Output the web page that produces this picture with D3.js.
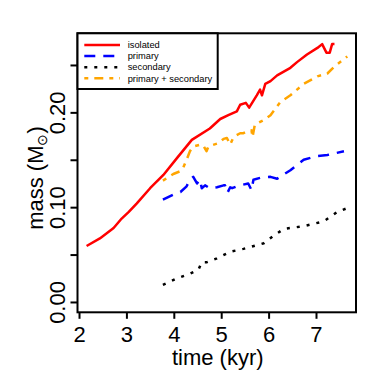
<!DOCTYPE html>
<html>
<head>
<meta charset="utf-8">
<script src="https://cdn.jsdelivr.net/npm/d3@7/dist/d3.min.js"></script>
<style>
  html, body { margin: 0; padding: 0; background: #fff; }
  svg { display: block; }
  text { font-family: "Liberation Sans", Arial, sans-serif; }
</style>
</head>
<body>
<svg id="chart" width="390" height="381"></svg>
<script>
// ── data ──────────────────────────────────────────────────────────────────
var isolatedTime = [2.16, 2.44, 2.73, 2.90, 3.05, 3.22, 3.50, 3.78, 4.07, 4.38, 4.76, 4.98,
                    5.15, 5.33, 5.40, 5.52, 5.59, 5.75, 5.82, 5.86, 5.93, 6.04, 6.18, 6.46,
                    6.60, 6.81, 7.03, 7.13, 7.22, 7.29, 7.34, 7.39];
var isolatedMass = [0.059, 0.067, 0.078, 0.088, 0.095, 0.104, 0.120, 0.134, 0.152, 0.171, 0.183, 0.193,
                    0.197, 0.201, 0.208, 0.210, 0.205, 0.218, 0.224, 0.218, 0.230, 0.233, 0.239, 0.247,
                    0.253, 0.261, 0.268, 0.272, 0.263, 0.263, 0.272, 0.272];

var primaryTime = [3.77, 4.06, 4.14, 4.27, 4.34, 4.41, 4.49, 4.55, 4.59, 4.66, 4.76, 4.91,
                   5.05, 5.08, 5.13, 5.19, 5.23, 5.33, 5.40, 5.57, 5.64, 5.68, 5.83, 6.04,
                   6.18, 6.46, 6.74, 7.03, 7.24, 7.59];
var primaryMass = [0.108, 0.115, 0.116, 0.122, 0.129, 0.132, 0.125, 0.129, 0.120, 0.123, 0.120, 0.121,
                   0.123, 0.123, 0.115, 0.121, 0.120, 0.122, 0.123, 0.125, 0.118, 0.129, 0.131, 0.132,
                   0.130, 0.139, 0.150, 0.154, 0.155, 0.159];

var secondaryTime = [3.77, 4.07, 4.35, 4.52, 4.59, 4.70, 4.91, 5.19, 5.47, 5.90, 6.11, 6.32,
                     6.74, 7.16, 7.31, 7.45, 7.66];
var secondaryMass = [0.018, 0.025, 0.030, 0.034, 0.042, 0.042, 0.046, 0.053, 0.056, 0.062, 0.070, 0.077,
                     0.080, 0.085, 0.090, 0.095, 0.099];

var bothTime = [3.77, 3.99, 4.14, 4.20, 4.27, 4.34, 4.41, 4.56, 4.62, 4.69, 4.73, 4.91,
                4.97, 5.05, 5.12, 5.19, 5.26, 5.40, 5.47, 5.55, 5.64, 5.66, 5.71, 5.90,
                6.04, 6.25, 6.46, 6.74, 7.03, 7.24, 7.38, 7.66];
var bothMass = [0.128, 0.135, 0.138, 0.142, 0.150, 0.159, 0.164, 0.166, 0.165, 0.159, 0.164, 0.167,
                0.169, 0.172, 0.173, 0.166, 0.174, 0.178, 0.178, 0.180, 0.181, 0.174, 0.187, 0.192,
                0.197, 0.211, 0.218, 0.230, 0.238, 0.241, 0.248, 0.259];

var xTicks = [2, 3, 4, 5, 6, 7];
var yTicks = [0, 0.05, 0.10, 0.15, 0.20, 0.25];
var yLabelled = [0, 0.10, 0.20];

var seriesNames = ['isolated', 'primary', 'secondary', 'primary + secondary'];

// ── styles ─────────────────────────────────────────────────────────────────
var series = [
  { name: seriesNames[0], t: isolatedTime,  m: isolatedMass,  color: '#ff0000', dash: null },
  { name: seriesNames[1], t: primaryTime,   m: primaryMass,   color: '#0000ff', dash: '11,8' },
  { name: seriesNames[2], t: secondaryTime, m: secondaryMass, color: '#000000', dash: '3,7' },
  { name: seriesNames[3], t: bothTime,      m: bothMass,      color: '#ffa500', dash: '4,6,9,6' }
];

var box = { left: 77.5, right: 356, top: 33.3, bottom: 312.3 };
var axisFont = 22;

var svg = d3.select('#chart');

var x = d3.scaleLinear().domain([1.968, 7.844]).range([box.left, box.right]);
var y = d3.scaleLinear().domain([-0.0109, 0.2834]).range([box.bottom, box.top]);

// ── lines ──────────────────────────────────────────────────────────────────
var line = d3.line()
  .x(function (d) { return x(d[0]); })
  .y(function (d) { return y(d[1]); });

series.forEach(function (s) {
  var pts = s.t.map(function (t, i) { return [t, s.m[i]]; });
  svg.append('path')
    .attr('d', line(pts))
    .attr('fill', 'none')
    .attr('stroke', s.color)
    .attr('stroke-width', 2.5)
    .attr('stroke-linejoin', 'round')
    .attr('stroke-dasharray', s.dash);
});

// ── axes ───────────────────────────────────────────────────────────────────
var gx = svg.append('g')
  .attr('transform', 'translate(0,' + box.bottom + ')')
  .call(d3.axisBottom(x).tickValues(xTicks).tickSize(6.5).tickFormat(d3.format('d')));
gx.select('.domain').remove();
gx.selectAll('.tick line').attr('stroke', '#000').attr('stroke-width', 2);
gx.selectAll('.tick text')
  .attr('y', 29.4).attr('dy', 0)
  .attr('font-size', axisFont).attr('font-family', '"Liberation Sans", Arial, sans-serif')
  .attr('fill', '#000');

var gy = svg.append('g')
  .attr('transform', 'translate(' + box.left + ',0)')
  .call(d3.axisLeft(y).tickValues(yTicks).tickSize(7)
    .tickFormat(function (d) {
      return yLabelled.some(function (v) { return Math.abs(v - d) < 1e-9; }) ? d3.format('.2f')(d) : '';
    }));
gy.select('.domain').remove();
gy.selectAll('.tick line').attr('stroke', '#000').attr('stroke-width', 2);
gy.selectAll('.tick text')
  .attr('transform', 'rotate(-90)')
  .attr('x', 0).attr('y', -12.5).attr('dy', 0)
  .attr('text-anchor', 'middle')
  .attr('font-size', axisFont).attr('font-family', '"Liberation Sans", Arial, sans-serif')
  .attr('fill', '#000');

// ── plot box ───────────────────────────────────────────────────────────────
svg.append('rect')
  .attr('x', box.left).attr('y', box.top)
  .attr('width', box.right - box.left).attr('height', box.bottom - box.top)
  .attr('fill', 'none').attr('stroke', '#000').attr('stroke-width', 2);

// ── axis titles ────────────────────────────────────────────────────────────
svg.append('text')
  .attr('x', (box.left + box.right) / 2 + 1).attr('y', 365)
  .attr('text-anchor', 'middle')
  .attr('font-size', axisFont)
  .text('time (kyr)');

var yt = svg.append('text')
  .attr('transform', 'translate(43,178) rotate(-90)')
  .attr('text-anchor', 'middle')
  .attr('font-size', axisFont);
yt.append('tspan').text('mass (M');
yt.append('tspan').attr('font-size', 14).attr('dy', 4).text('⊙');
yt.append('tspan').attr('dy', -4).text(')');

// ── legend ─────────────────────────────────────────────────────────────────
var lg = svg.append('g');
lg.append('rect')
  .attr('x', box.left).attr('y', box.top)
  .attr('width', 217.7 - box.left).attr('height', 89 - box.top)
  .attr('fill', '#fff').attr('stroke', '#000').attr('stroke-width', 2);

var legendY = d3.scalePoint().domain(seriesNames).range([45, 78.3]);

series.forEach(function (s) {
  var ly = legendY(s.name);
  lg.append('line')
    .attr('x1', 84.3).attr('x2', 120)
    .attr('y1', ly).attr('y2', ly)
    .attr('stroke', s.color).attr('stroke-width', 2.5)
    .attr('stroke-dasharray', s.dash);
  lg.append('text')
    .attr('x', 127.7).attr('y', ly).attr('dy', '0.35em')
    .attr('font-size', 9.3)
    .text(s.name);
});
</script>
</body>
</html>
